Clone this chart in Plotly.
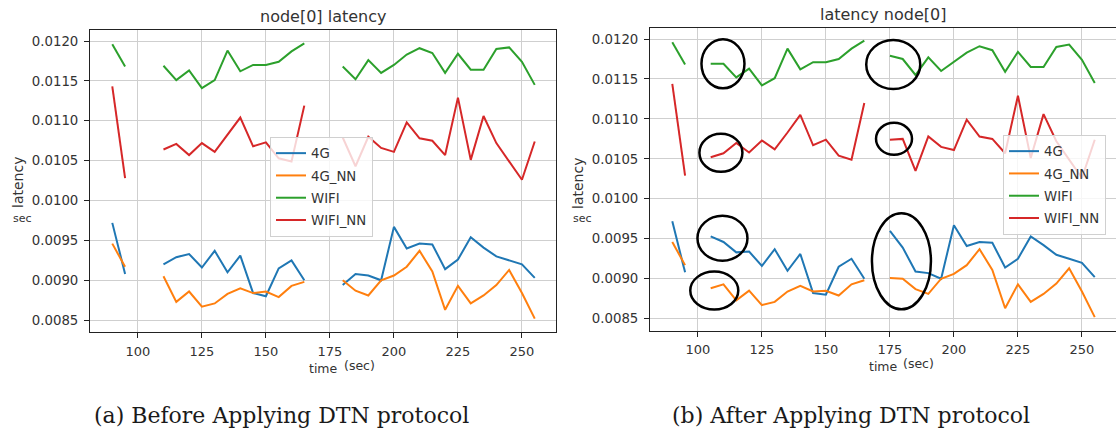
import plotly.graph_objects as go

W, H = 1116, 430

# sampling times (s); None marks a missing sample -> gap in the line
time_s = list(range(90, 256, 5))

series_names = ["4G", "4G_NN", "WIFI", "WIFI_NN"]
colors = ["#1f77b4", "#ff7f0e", "#2ca02c", "#d62728"]

# ---- (a) before applying the DTN protocol ----
before_4g = [0.00972, 0.00908, None, None, 0.00920, 0.00929, 0.00933, 0.00916, 0.00937, 0.00910,
             0.00931, 0.00884, 0.00880, 0.00915, 0.00925, 0.00900, None, None, 0.00894, 0.00908,
             0.00906, 0.00900, 0.00967, 0.00940, 0.00946, 0.00945, 0.00914, 0.00926, 0.00954,
             0.00941, 0.00930, 0.00925, 0.00920, 0.00903]
before_4g_nn = [0.00946, 0.00917, None, None, 0.00905, 0.00873, 0.00886, 0.00867, 0.00871, 0.00883,
                0.00890, 0.00884, 0.00886, 0.00879, 0.00893, 0.00898, None, None, 0.00900, 0.00887,
                0.00881, 0.00900, 0.00906, 0.00917, 0.00937, 0.00911, 0.00863, 0.00893, 0.00871,
                0.00881, 0.00894, 0.00913, 0.00884, 0.00852]
before_wifi = [0.01196, 0.01168, None, None, 0.01169, 0.01151, 0.01163, 0.01141, 0.01151, 0.01188,
               0.01162, 0.01170, 0.01170, 0.01174, 0.01187, 0.01197, None, None, 0.01168, 0.01152,
               0.01176, 0.01160, 0.01170, 0.01183, 0.01191, 0.01185, 0.01160, 0.01184, 0.01164,
               0.01164, 0.01190, 0.01192, 0.01174, 0.01145]
before_wifi_nn = [0.01143, 0.01028, None, None, 0.01064, 0.01071, 0.01057, 0.01072, 0.01061, 0.01082,
                  0.01104, 0.01068, 0.01073, 0.01053, 0.01049, 0.01119, None, None, 0.01079, 0.01043,
                  0.01080, 0.01066, 0.01061, 0.01098, 0.01078, 0.01075, 0.01057, 0.01129, 0.01051,
                  0.01106, 0.01072, 0.01049, 0.01026, 0.01074]

# ---- (b) after applying the DTN protocol ----
after_4g = [0.00972, 0.00908, None, 0.00953, 0.00946, 0.00933, 0.00934, 0.00916, 0.00937, 0.00910,
            0.00931, 0.00882, 0.00880, 0.00915, 0.00925, 0.00900, None, 0.00960, 0.00939, 0.00909,
            0.00907, 0.00900, 0.00967, 0.00941, 0.00946, 0.00945, 0.00914, 0.00925, 0.00953,
            0.00942, 0.00930, 0.00925, 0.00920, 0.00902]
after_4g_nn = [0.00946, 0.00917, None, 0.00888, 0.00893, 0.00873, 0.00885, 0.00867, 0.00871, 0.00884,
               0.00891, 0.00884, 0.00885, 0.00879, 0.00893, 0.00898, None, 0.00901, 0.00900, 0.00887,
               0.00881, 0.00900, 0.00906, 0.00917, 0.00937, 0.00911, 0.00863, 0.00893, 0.00871,
               0.00881, 0.00894, 0.00913, 0.00884, 0.00852]
after_wifi = [0.01196, 0.01168, None, 0.01169, 0.01169, 0.01152, 0.01163, 0.01142, 0.01151, 0.01188,
              0.01162, 0.01171, 0.01171, 0.01175, 0.01188, 0.01198, None, 0.01179, 0.01175, 0.01155,
              0.01177, 0.01160, 0.01172, 0.01183, 0.01191, 0.01186, 0.01159, 0.01184, 0.01165,
              0.01165, 0.01190, 0.01193, 0.01174, 0.01145]
after_wifi_nn = [0.01144, 0.01029, None, 0.01052, 0.01057, 0.01070, 0.01058, 0.01073, 0.01062, 0.01083,
                 0.01105, 0.01067, 0.01074, 0.01054, 0.01049, 0.01120, None, 0.01074, 0.01075, 0.01035,
                 0.01078, 0.01065, 0.01061, 0.01099, 0.01078, 0.01075, 0.01057, 0.01129, 0.01051,
                 0.01106, 0.01072, 0.01049, 0.01026, 0.01074]

before = [before_4g, before_4g_nn, before_wifi, before_wifi_nn]
after = [after_4g, after_4g_nn, after_wifi, after_wifi_nn]

x_ticks = [100, 125, 150, 175, 200, 225, 250]
y_ticks = [0.0085, 0.0090, 0.0095, 0.0100, 0.0105, 0.0110, 0.0115, 0.0120]

titles = ["node[0] latency", "latency node[0]"]
captions = ["(a) Before Applying DTN protocol", "(b) After Applying DTN protocol"]

# highlighted regions in panel (b): centre (time, latency) and ellipse size in px
highlights = [
    (109.8, 0.011690, 43, 49),
    (109.0, 0.010576, 43, 38),
    (109.6, 0.009507, 50, 45),
    (106.4, 0.008852, 48, 38),
    (176.3, 0.011681, 54, 49),
    (176.6, 0.010751, 36, 32),
    (179.5, 0.009218, 59, 96),
]

SANS = "DejaVu Sans"
TXT = "#333333"


def fx(p):
    return p / W


def fy(p):
    return 1 - p / H


fig = go.Figure()
for panel, (data, xa, ya, lg) in enumerate([(before, "x", "y", "legend"),
                                             (after, "x2", "y2", "legend2")]):
    for name, col, ys in zip(series_names, colors, data):
        fig.add_trace(go.Scatter(x=time_s, y=ys, mode="lines", name=name,
                                 line=dict(color=col, width=2), connectgaps=False,
                                 legendgroup=f"{panel}-{name}",
                                 xaxis=xa, yaxis=ya, legend=lg))

x_common = dict(range=[81.3, 263.3], tickvals=x_ticks, showgrid=True, gridcolor="#cfcfcf",
                gridwidth=1, showline=True, linecolor="#222222", linewidth=1, mirror=True,
                ticks="outside", ticklen=5, tickcolor="#222222", zeroline=False,
                tickfont=dict(family=SANS, size=13, color=TXT), ticklabelstandoff=2)
y_common = dict(range=[0.008352, 0.012138], tickvals=y_ticks, tickformat=".4f", showgrid=True,
                gridcolor="#cfcfcf", gridwidth=1, showline=True, linecolor="#222222", linewidth=1,
                mirror=True, ticks="outside", ticklen=5, tickcolor="#222222", zeroline=False,
                tickfont=dict(family=SANS, size=13.3, color=TXT), ticklabelstandoff=3)

legend_common = dict(bgcolor="rgba(255,255,255,0.8)", bordercolor="#d0d0d0", borderwidth=1,
                     font=dict(family=SANS, size=13.3, color=TXT), xanchor="left", yanchor="top",
                     tracegroupgap=2)

fig.update_layout(
    width=W, height=H, margin=dict(l=0, r=0, t=0, b=0),
    paper_bgcolor="white", plot_bgcolor="white",
    xaxis=dict(domain=[fx(90), fx(556)], anchor="y", **x_common),
    yaxis=dict(domain=[fy(332), fy(30)], anchor="x", **y_common),
    xaxis2=dict(domain=[fx(650), fx(1116)], anchor="y2", **x_common),
    yaxis2=dict(domain=[fy(330.5), fy(28)], anchor="x2", **y_common),
    legend=dict(x=fx(270), y=fy(137), **legend_common),
    legend2=dict(x=fx(1003), y=fy(135), **legend_common),
    showlegend=True,
)

ann = []
# panel titles
ann.append(dict(text=titles[0], x=fx(323), y=fy(16.5), xref="paper", yref="paper",
                showarrow=False, xanchor="center", yanchor="middle",
                font=dict(family=SANS, size=16, color=TXT)))
ann.append(dict(text=titles[1], x=fx(883), y=fy(14.5), xref="paper", yref="paper",
                showarrow=False, xanchor="center", yanchor="middle",
                font=dict(family=SANS, size=16, color=TXT)))
# axis labels for both panels
for x_mid, dy, ylab_x in [(323.5, 0, 18), (883, -1.5, 578)]:
    ann.append(dict(text="time", x=fx(x_mid), y=fy(368 + dy), xref="paper", yref="paper",
                    showarrow=False, xanchor="center", yanchor="middle",
                    font=dict(family=SANS, size=12.5, color=TXT)))
    ann.append(dict(text="(sec)", x=fx(x_mid + 18.5), y=fy(365 + dy), xref="paper", yref="paper",
                    showarrow=False, xanchor="left", yanchor="middle",
                    font=dict(family=SANS, size=12.5, color=TXT)))
    ann.append(dict(text="latency", x=fx(ylab_x), y=fy(183), xref="paper", yref="paper",
                    showarrow=False, xanchor="center", yanchor="middle", textangle=-90,
                    font=dict(family=SANS, size=14, color=TXT)))
    ann.append(dict(text="sec", x=fx(ylab_x + 4), y=fy(218.5), xref="paper", yref="paper",
                    showarrow=False, xanchor="center", yanchor="middle",
                    font=dict(family=SANS, size=11, color=TXT)))
# sub-figure captions
for cap, cx in zip(captions, [281.5, 851]):
    ann.append(dict(text=cap, x=fx(cx), y=fy(415), xref="paper", yref="paper",
                    showarrow=False, xanchor="center", yanchor="middle",
                    font=dict(family="DejaVu Serif", size=22, color="#1a1a1a")))
fig.update_layout(annotations=ann)

# black ellipses marking the recovered samples in panel (b)
shapes = []
for t, v, w, h in highlights:
    shapes.append(dict(type="circle", xref="x2", yref="y2", xsizemode="pixel", ysizemode="pixel",
                       xanchor=t, yanchor=v, x0=-w / 2, x1=w / 2, y0=-h / 2, y1=h / 2,
                       line=dict(color="black", width=2.5), layer="above"))
fig.update_layout(shapes=shapes)

fig.write_html("out.html")
